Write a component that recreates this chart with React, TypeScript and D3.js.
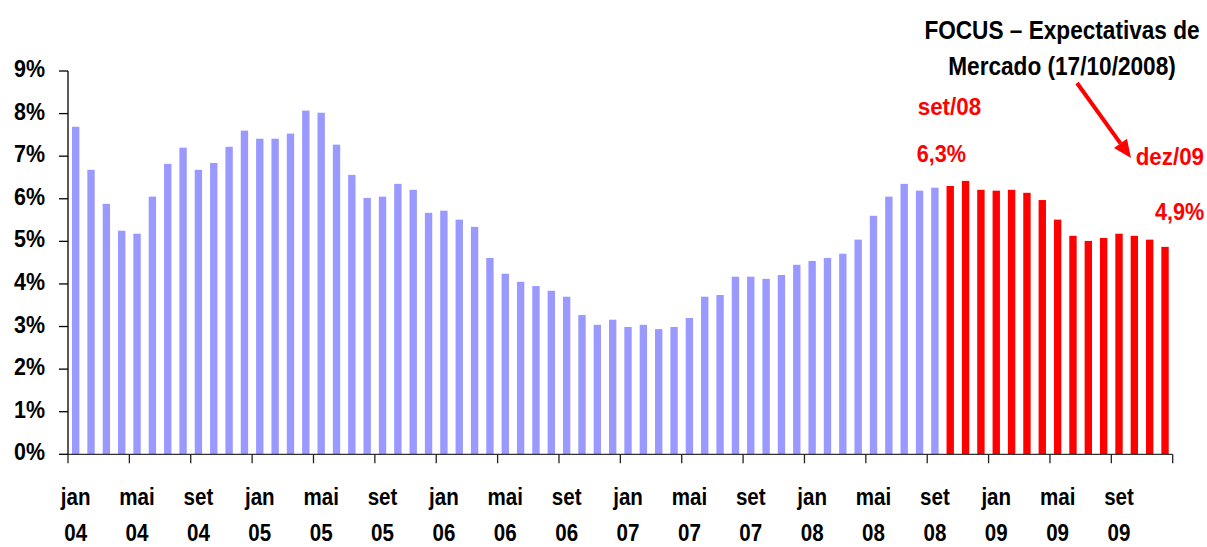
import React, { useRef, useEffect } from 'react';
import * as d3 from 'd3';

// Month / year labels for the category axis
const meses = ['jan', 'fev', 'mar', 'abr', 'mai', 'jun', 'jul', 'ago', 'set', 'out', 'nov', 'dez'];
const anos = ['04', '05', '06', '07', '08', '09'];

// IPCA 12 months, realized (jan/04 - set/08)
const realizado = [
  7.69, 6.68, 5.88, 5.25, 5.18, 6.05, 6.82, 7.20, 6.68, 6.84, 7.22, 7.60,
  7.41, 7.41, 7.53, 8.07, 8.02, 7.27, 6.56, 6.02, 6.05, 6.35, 6.21, 5.67,
  5.72, 5.51, 5.34, 4.61, 4.24, 4.05, 3.95, 3.84, 3.70, 3.27, 3.04, 3.16,
  2.99, 3.04, 2.94, 2.99, 3.20, 3.70, 3.74, 4.17, 4.17, 4.12, 4.21, 4.45,
  4.54, 4.61, 4.71, 5.04, 5.60, 6.05, 6.35, 6.19, 6.26,
];

// FOCUS market expectations (out/08 - dez/09)
const focus = [6.30, 6.42, 6.21, 6.19, 6.21, 6.14, 5.97, 5.51, 5.13, 5.01, 5.08, 5.18, 5.13, 5.04, 4.87];

const yTicks = [0, 1, 2, 3, 4, 5, 6, 7, 8, 9];

const titleLines = ['FOCUS – Expectativas de', 'Mercado (17/10/2008)'];

const BLUE = '#9999ff';
const RED = '#ff0000';
const FONT = '"Liberation Sans", Arial, sans-serif';

const App = () => {
  const ref = useRef<SVGSVGElement>(null);
  const width = 1207;
  const height = 547;

  useEffect(() => {
    const svg = d3.select(ref.current);
    svg.selectAll('*').remove();

    const categorias = anos.flatMap(a => meses.map(m => `${m}/${a}`));
    const data = [
      ...realizado.map(v => ({ value: v, tipo: 'real' })),
      ...focus.map(v => ({ value: v, tipo: 'focus' })),
    ].map((d, i) => ({ ...d, cat: categorias[i] }));

    const left = 68;
    const right = 1172.7;
    const top = 71;
    const bottom = 454.3;

    const x = d3.scaleBand()
      .domain(categorias)
      .range([left, right])
      .paddingInner(0.52)
      .paddingOuter(0.26);

    const y = d3.scaleLinear().domain([0, 9]).range([bottom, top]);

    // helper for the condensed bold text of the original
    const label = (g, tx, ty, txt, size, sx, anchor, color = '#000') =>
      g.append('text')
        .attr('transform', `translate(${tx},${ty}) scale(${sx},1)`)
        .attr('text-anchor', anchor)
        .attr('font-family', FONT)
        .attr('font-weight', 'bold')
        .attr('font-size', size)
        .attr('fill', color)
        .text(txt);

    // bars
    svg.append('g')
      .selectAll('rect')
      .data(data)
      .enter()
      .append('rect')
      .attr('x', d => x(d.cat))
      .attr('y', d => y(d.value))
      .attr('width', x.bandwidth())
      .attr('height', d => y(0) - y(d.value))
      .attr('fill', d => (d.tipo === 'real' ? BLUE : RED));

    // y axis
    svg.append('line')
      .attr('x1', left).attr('x2', left)
      .attr('y1', top).attr('y2', bottom)
      .attr('stroke', '#000')
      .attr('stroke-width', 1.3);

    yTicks.forEach(t => {
      svg.append('line')
        .attr('x1', left - 9).attr('x2', left)
        .attr('y1', y(t)).attr('y2', y(t))
        .attr('stroke', '#000')
        .attr('stroke-width', 1.3);
      label(svg, 45, y(t) + 6, `${t}%`, 23.3, 0.92, 'end');
    });

    // x axis
    svg.append('line')
      .attr('x1', left).attr('x2', right)
      .attr('y1', bottom).attr('y2', bottom)
      .attr('stroke', '#333')
      .attr('stroke-width', 1.3);

    const step = x.step();
    for (let i = 0; i <= categorias.length; i += 4) {
      const tx = left + i * step;
      svg.append('line')
        .attr('x1', tx).attr('x2', tx)
        .attr('y1', bottom).attr('y2', bottom + 9)
        .attr('stroke', '#222')
        .attr('stroke-width', 1.3);
      if (i < categorias.length) {
        const [m, a] = categorias[i].split('/');
        const cx = x(categorias[i]) + x.bandwidth() / 2;
        label(svg, cx, 505, m, 24.5, 0.84, 'middle');
        label(svg, cx, 541, a, 24.5, 0.84, 'middle');
      }
    }

    // title
    label(svg, 1062, 39.3, titleLines[0], 26, 0.87, 'middle');
    label(svg, 1062, 75, titleLines[1], 26, 0.87, 'middle');

    // red annotations
    label(svg, 917.7, 115, 'set/08', 23.3, 0.96, 'start', RED);
    label(svg, 916.7, 161.7, '6,3%', 23.3, 0.93, 'start', RED);
    label(svg, 1135.7, 165, 'dez/09', 23.3, 0.96, 'start', RED);
    label(svg, 1155, 220, '4,9%', 23.3, 0.93, 'start', RED);

    // arrow from the title to dez/09
    const x0 = 1077, y0 = 83, x1 = 1131, y1 = 158;
    const ang = Math.atan2(y1 - y0, x1 - x0);
    const headLen = 18, headW = 8;
    const bx = x1 - headLen * Math.cos(ang);
    const by = y1 - headLen * Math.sin(ang);
    svg.append('line')
      .attr('x1', x0).attr('y1', y0)
      .attr('x2', bx).attr('y2', by)
      .attr('stroke', RED)
      .attr('stroke-width', 4);
    svg.append('polygon')
      .attr('points', [
        [x1, y1],
        [bx + headW * Math.sin(ang), by - headW * Math.cos(ang)],
        [bx - headW * Math.sin(ang), by + headW * Math.cos(ang)],
      ].map(p => p.join(',')).join(' '))
      .attr('fill', RED);
  }, []);

  return (
    <svg
      ref={ref}
      width={width}
      height={height}
      style={{ position: 'absolute', left: 0, top: 0, background: '#fff' }}
    />
  );
};

export default App;
